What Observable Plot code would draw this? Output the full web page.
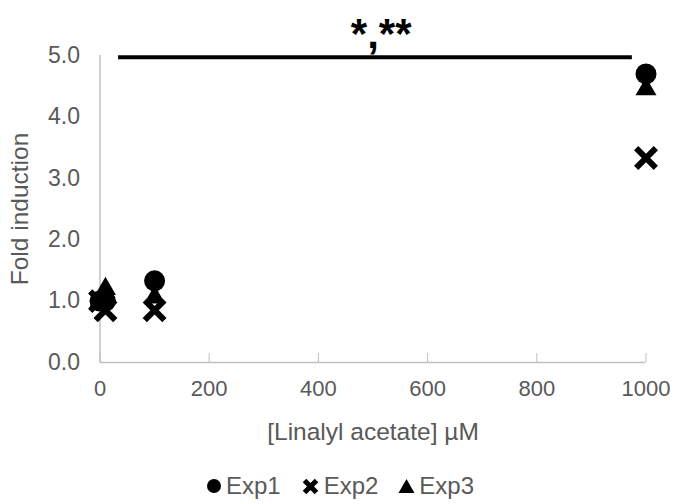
<!DOCTYPE html>
<html><head><meta charset="utf-8">
<script src="https://cdn.jsdelivr.net/npm/d3@7"></script>
<script src="https://cdn.jsdelivr.net/npm/@observablehq/plot@0.6"></script>
<style>
body{margin:0;background:#fff;font-family:"Liberation Sans",Arial,sans-serif;}
#legend{display:flex;justify-content:center;align-items:center;gap:20px;font-size:24px;color:#595959;margin-top:13px;line-height:26px;}
.item{display:flex;align-items:center;gap:4px;}
.item svg{display:block;}
</style></head><body>
<div id="chart"></div>
<div id="legend"></div>
<script>
const concentrations = [0, 10, 100, 1000];
const exp1 = [1.00, 1.00, 1.33, 4.70];
const exp2 = [1.00, 0.85, 0.85, 3.33];
const exp3 = [1.00, 1.20, 1.06, 4.45];
const seriesNames = ["Exp1", "Exp2", "Exp3"];
const xTicks = [0, 200, 400, 600, 800, 1000];
const yTicks = [0, 1, 2, 3, 4, 5];
const xTitle = "[Linalyl acetate] µM";
const yTitle = "Fold induction";
const sigFrom = 34, sigTo = 975, sigLevel = 4.97;
const sigLabel = "*,**", sigLabelX = 515, sigLabelY = 5.13;

const rows = (vals, name) => concentrations.map((c, i) => ({c, v: vals[i], name}));

const plot = Plot.plot({
  width: 680, height: 460,
  marginLeft: 99.5, marginRight: 34.5, marginTop: 55, marginBottom: 98,
  x: {domain: [0, 1000]},
  y: {domain: [0, 5]},
  style: {fontFamily: "'Liberation Sans', Arial, sans-serif", fontSize: "22px", color: "#595959", background: "white"},
  marks: [
    Plot.ruleY([0], {stroke: "#c0c0c0", strokeWidth: 1.5}),
    Plot.ruleX([0], {y1: 0, y2: 5, stroke: "#c0c0c0", strokeWidth: 1.5}),
    Plot.axisX(xTicks, {tickSize: 9, dy: -9, tickFormat: () => "", stroke: "#c0c0c0", label: null}),
    Plot.axisX(xTicks, {tickSize: 0, tickPadding: 18, tickFormat: d => String(d), fill: "#595959", label: null}),
    Plot.axisX([], {tickSize: 0, fontSize: 24.5, fill: "#595959", label: xTitle, labelAnchor: "center", labelOffset: 77, labelArrow: "none"}),
    Plot.axisY(yTicks, {tickSize: 0, tickPadding: 20, fontSize: 23, tickFormat: d3.format(".1f"), fill: "#595959", label: null}),
    Plot.axisY([], {tickSize: 0, fontSize: 24.5, fill: "#595959", label: yTitle, labelAnchor: "center", labelOffset: 89, labelArrow: "none"}),
    Plot.dot(rows(exp1, seriesNames[0]), {x: "c", y: "v", r: 10.5, fill: "black", symbol: "circle"}),
    Plot.dot(rows(exp2, seriesNames[1]), {x: "c", y: "v", r: 9, stroke: "black", strokeWidth: 6, symbol: "times"}),
    Plot.dot(rows(exp3, seriesNames[2]), {x: "c", y: "v", r: 7.8, fill: "black", symbol: "triangle"}),
    Plot.ruleY([sigLevel], {x1: sigFrom, x2: sigTo, stroke: "black", strokeWidth: 4}),
    Plot.text([sigLabel], {x: sigLabelX, y: sigLabelY, text: d => d, fontSize: 42, fontWeight: "bold", fill: "black", lineAnchor: "bottom"})
  ]
});
document.getElementById("chart").appendChild(plot);

const markers = {
  Exp1: '<svg width="16" height="16" viewBox="-8 -8 16 16"><circle r="7" fill="black"/></svg>',
  Exp2: '<svg width="19" height="19" viewBox="-9.5 -9.5 19 19"><path d="M-6,-6L6,6M-6,6L6,-6" stroke="black" stroke-width="5"/></svg>',
  Exp3: '<svg width="17" height="16" viewBox="-8.5 -8.5 17 16"><path d="M0,-7.5L8,6.5L-8,6.5Z" fill="black"/></svg>'
};
const legend = document.getElementById("legend");
seriesNames.forEach(n => {
  const item = document.createElement("div");
  item.className = "item";
  item.innerHTML = markers[n] + "<span>" + n + "</span>";
  legend.appendChild(item);
});
</script>
</body></html>
